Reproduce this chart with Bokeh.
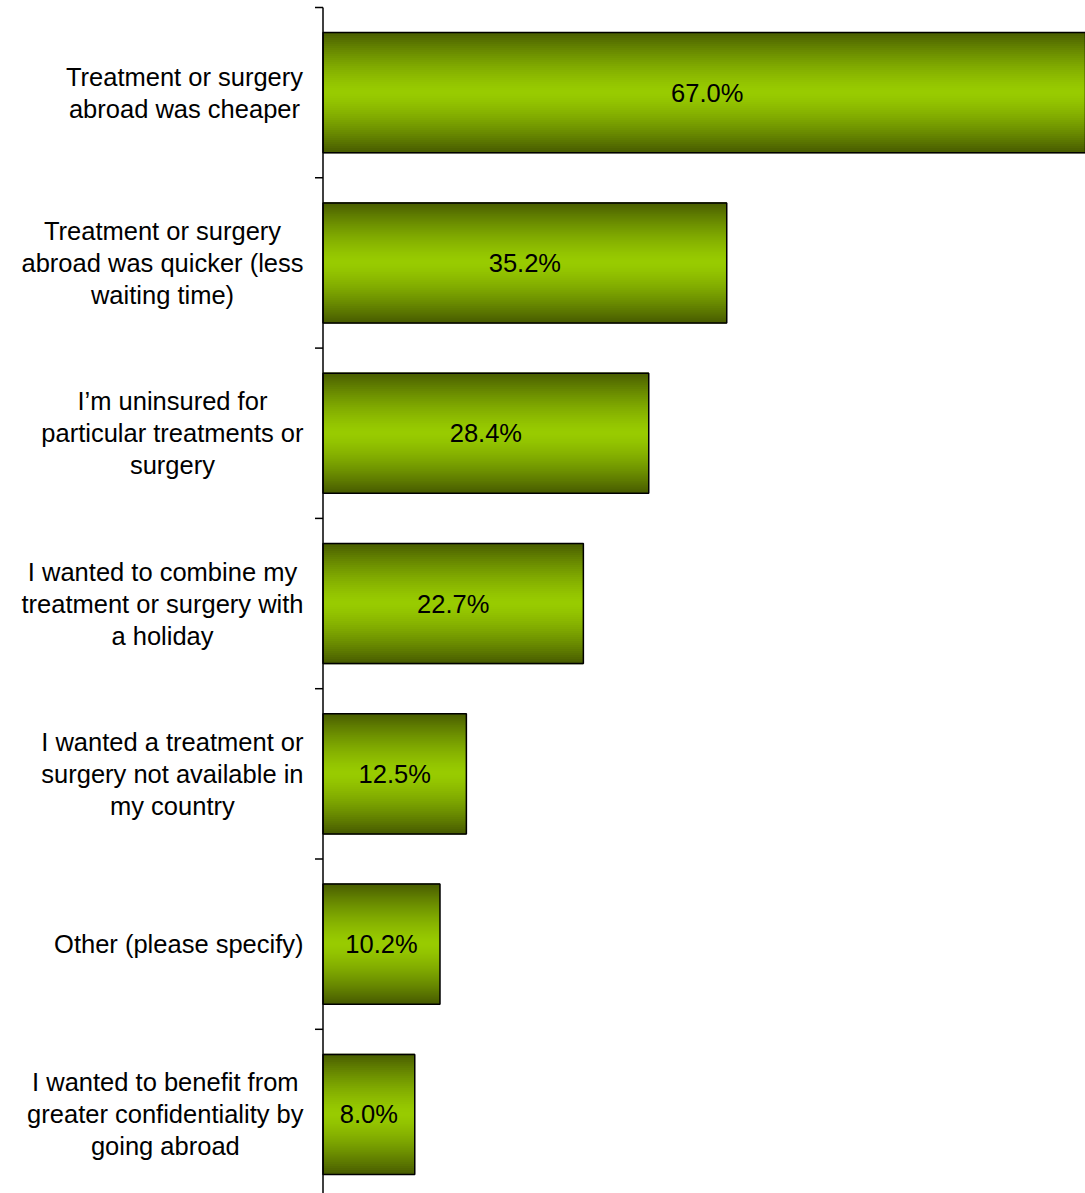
from bokeh.plotting import figure
from bokeh.models import Range1d
from bokeh.embed import file_html
from bokeh.resources import INLINE
from bokeh.core.properties import value

# ---------------- data ----------------
categories = [
    "Treatment or surgery\nabroad was cheaper",
    "Treatment or surgery\nabroad was quicker (less\nwaiting time)",
    "I\u2019m uninsured for\nparticular treatments or\nsurgery",
    "I wanted to combine my\ntreatment or surgery with\na holiday",
    "I wanted a treatment or\nsurgery not available in\nmy country",
    "Other (please specify)",
    "I wanted to benefit from\ngreater confidentiality by\ngoing abroad",
]
values = [67.0, 35.2, 28.4, 22.7, 12.5, 10.2, 8.0]
value_labels = ["67.0%", "35.2%", "28.4%", "22.7%", "12.5%", "10.2%", "8.0%"]

# ---------------- layout / style ----------------
W, H = 1085, 1193
PX_PER_PCT = 11.47
ZERO_PX = 322.5           # x of the 0 % line inside the figure
TOP_PX = 7.0              # y of the first category boundary
CAT_PX = 170.3            # height of one category band
FONT = "Liberation Sans"
FSIZE = 25.5
LINE_PX = 32
BAR_FRAC = 0.705

x_start = -ZERO_PX / PX_PER_PCT
x_end = (W - ZERO_PX) / PX_PER_PCT
y_top = -0.5 - TOP_PX / CAT_PX
y_bot = y_top + H / CAT_PX

p = figure(width=W, height=H,
           x_range=Range1d(x_start, x_end), y_range=Range1d(y_bot, y_top),
           output_backend="svg", toolbar_location=None,
           x_axis_location=None, y_axis_location=None, min_border=0)
p.grid.visible = False
p.outline_line_color = None
p.background_fill_color = "white"
p.border_fill_color = "white"

idx = list(range(len(values)))

# gradient bars made of thin strips
dark = (0x48, 0x5c, 0x00)
bright = (0x99, 0xcc, 0x00)
N = 60
strip_h = BAR_FRAC / N
sy, sr, sc = [], [], []
for i, v in zip(idx, values):
    for k in range(N):
        t = (k + 0.5) / N
        s = abs(t - 0.5) * 2
        w = s ** 1.4
        r = int(bright[0] + (dark[0] - bright[0]) * w)
        g = int(bright[1] + (dark[1] - bright[1]) * w)
        b = int(bright[2] + (dark[2] - bright[2]) * w)
        sy.append(i - BAR_FRAC / 2 + (k + 0.5) * strip_h)
        sr.append(v)
        sc.append("#%02x%02x%02x" % (r, g, b))
p.hbar(y=sy, left=0, right=sr, height=strip_h * 1.6, fill_color=sc, line_color=None)

# outline
p.hbar(y=idx, left=0, right=values, height=BAR_FRAC,
       fill_color=None, line_color="black", line_width=1.5)

# axis line and ticks
bounds = [i - 0.5 for i in range(len(values) + 1)]
p.segment(x0=[0], x1=[0], y0=[bounds[0]], y1=[y_bot], line_color="black", line_width=1.5)
tick_len = 8 / PX_PER_PCT
p.segment(x0=[-tick_len] * len(bounds), x1=[0] * len(bounds), y0=bounds, y1=bounds,
          line_color="black", line_width=1.5)

# value labels
p.text(x=[v / 2 for v in values], y=idx, text=value_labels,
       text_align="center", text_baseline="middle",
       text_font=value(FONT), text_font_size=f"{FSIZE}px", text_color="black")

# category labels: block right-aligned, lines centred inside block
AW = {' ': 278, '(': 333, ')': 333, '\u2019': 222, "'": 191, 'I': 278, 'O': 778, 'T': 611,
      'a': 556, 'b': 556, 'c': 500, 'd': 556, 'e': 556, 'f': 278, 'g': 556, 'h': 556,
      'i': 222, 'j': 222, 'k': 500, 'l': 222, 'm': 833, 'n': 556, 'o': 556, 'p': 556,
      'q': 556, 'r': 333, 's': 500, 't': 278, 'u': 556, 'v': 500, 'w': 722, 'x': 500,
      'y': 500, 'z': 500}


def text_w(s):
    return sum(AW.get(c, 556) for c in s) / 1000 * FSIZE


right_edge = -19.5 / PX_PER_PCT
lx, ly, lt = [], [], []
for i, cat in zip(idx, categories):
    lines = cat.split("\n")
    block_w = max(text_w(l) for l in lines) / PX_PER_PCT
    cx = right_edge - block_w / 2
    n = len(lines)
    for k, l in enumerate(lines):
        lx.append(cx)
        ly.append(i + (k - (n - 1) / 2) * LINE_PX / CAT_PX)
        lt.append(l)
p.text(x=lx, y=ly, text=lt, text_align="center", text_baseline="middle",
       text_font=value(FONT), text_font_size=f"{FSIZE}px", text_color="black")

open("out.html", "w").write(file_html(p, INLINE))
